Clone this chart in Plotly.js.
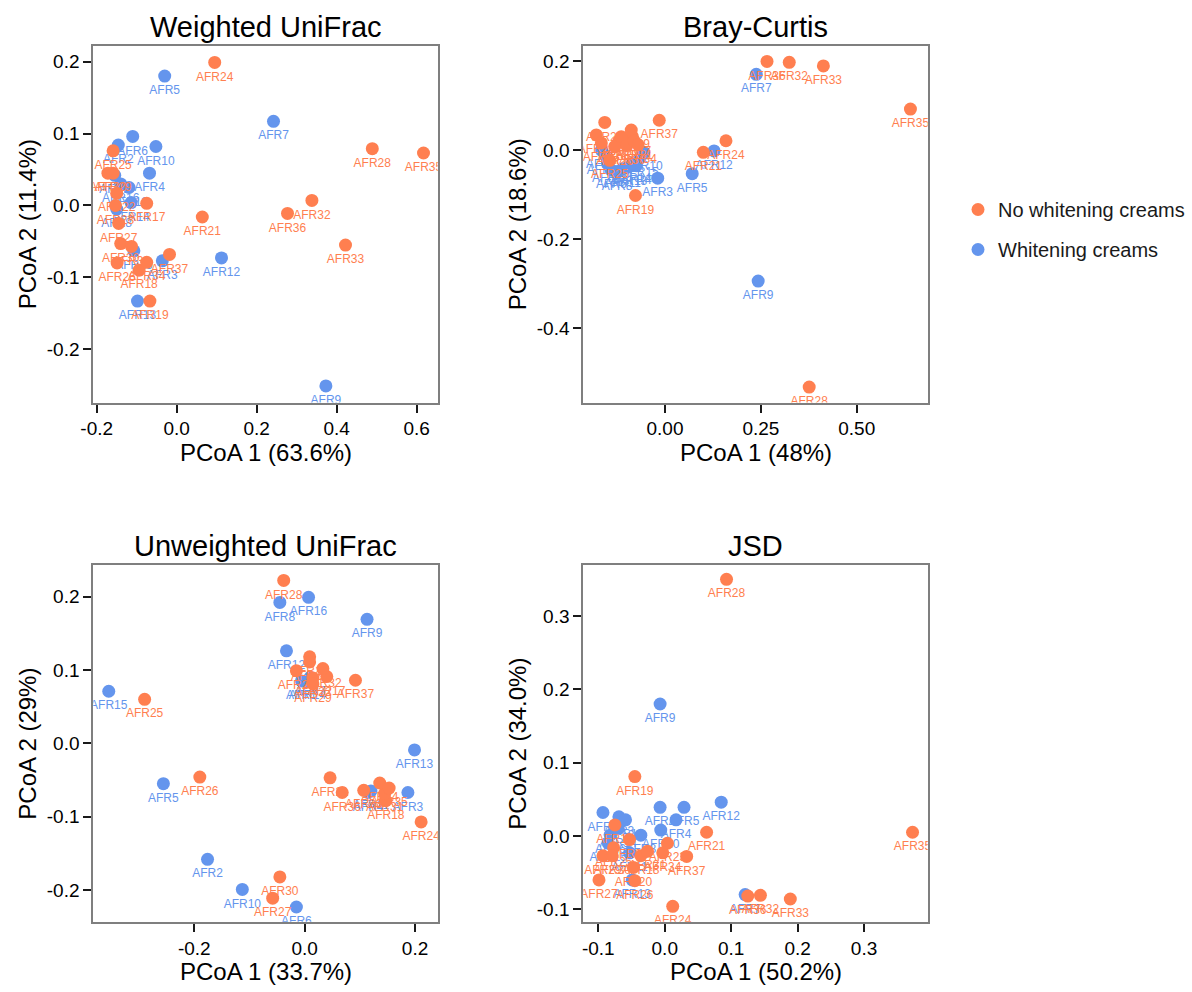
<!DOCTYPE html>
<html>
<head>
<meta charset="utf-8">
<script src="https://cdn.plot.ly/plotly-3.0.1.min.js"></script>
<style>
  html, body { margin: 0; padding: 0; background: #ffffff; }
  #chart { width: 1192px; height: 992px; }
</style>
</head>
<body>
<div id="chart"></div>
<script>
// ---------------- DATA ----------------
const samples = ['AFR1','AFR2','AFR3','AFR4','AFR5','AFR6','AFR7','AFR8','AFR9','AFR10',
  'AFR11','AFR12','AFR13','AFR14','AFR15','AFR16','AFR17','AFR18','AFR19','AFR20',
  'AFR21','AFR22','AFR23','AFR24','AFR25','AFR26','AFR27','AFR28','AFR29','AFR30',
  'AFR31','AFR32','AFR33','AFR34','AFR35','AFR36','AFR37'];
// 1 = Whitening creams, 0 = No whitening creams
const whitening = [1,1,1,1,1,1,1,1,1,1,1,1,1,1,1,1,0,0,0,0,0,0,0,0,0,0,0,0,0,0,0,0,0,0,0,0,0];
const groupNames = ['No whitening creams', 'Whitening creams'];

// Weighted UniFrac
const wuX = [-0.155,-0.146,-0.036,-0.068,-0.030,-0.110,0.242,-0.150,0.373,-0.052,
  -0.119,0.112,-0.098,-0.114,-0.107,-0.140,-0.075,-0.094,-0.067,-0.172,
  0.064,-0.150,-0.153,0.095,-0.159,-0.149,-0.145,0.489,-0.159,-0.140,
  -0.113,0.338,0.422,-0.075,0.617,0.277,-0.018];
const wuY = [0.042,0.084,-0.077,0.045,0.180,0.096,0.117,-0.005,-0.251,0.082,
  0.025,-0.073,-0.133,0.004,-0.063,0.030,0.003,-0.090,-0.133,0.045,
  -0.016,0.017,0.000,0.199,0.076,-0.080,-0.025,0.079,0.045,-0.053,
  -0.057,0.007,-0.055,-0.079,0.073,-0.011,-0.068];

// Bray-Curtis
const bcX = [-0.166,-0.150,-0.019,-0.075,0.071,-0.140,0.238,-0.125,0.243,-0.055,
  -0.110,0.128,-0.095,-0.085,-0.065,-0.155,-0.085,-0.120,-0.077,-0.157,
  0.100,-0.179,-0.166,0.159,-0.144,-0.131,-0.114,0.376,-0.088,-0.100,
  -0.080,0.324,0.413,-0.070,0.640,0.266,-0.015];
const bcY = [0.000,-0.030,-0.063,-0.035,-0.053,-0.045,0.170,-0.048,-0.294,-0.005,
  -0.042,-0.002,-0.038,-0.030,-0.018,-0.012,0.030,0.020,-0.102,0.062,
  -0.005,0.034,0.016,0.021,-0.023,0.008,0.030,-0.532,0.045,0.010,
  0.020,0.197,0.189,0.012,0.092,0.199,0.067];

// Unweighted UniFrac
const uuX = [-0.006,-0.176,0.187,0.115,-0.256,-0.015,0.010,-0.045,0.113,-0.113,
  0.120,-0.033,0.199,0.005,-0.355,0.007,0.040,0.147,0.009,0.009,
  0.046,0.015,-0.015,0.211,-0.290,-0.190,-0.058,-0.038,0.015,-0.045,
  0.145,0.033,0.107,0.136,0.153,0.068,0.092];
const uuY = [0.085,-0.158,-0.067,-0.067,-0.055,-0.223,0.090,0.192,0.169,-0.199,
  -0.065,0.126,-0.009,0.085,0.071,0.199,0.091,-0.078,0.118,0.111,
  -0.047,0.089,0.099,-0.107,0.060,-0.046,-0.211,0.222,0.081,-0.182,
  -0.068,0.102,-0.064,-0.054,-0.061,-0.067,0.086];

// JSD
const jsX = [-0.007,-0.093,-0.069,0.017,0.029,-0.082,0.121,-0.036,-0.007,-0.006,
  -0.053,0.085,-0.049,-0.070,-0.085,-0.059,-0.075,-0.036,-0.045,-0.047,
  0.063,-0.053,0.004,0.012,-0.077,-0.045,-0.099,0.093,-0.093,-0.079,
  -0.026,0.144,0.189,-0.003,0.373,0.125,0.033];
const jsY = [0.039,0.032,0.026,0.022,0.039,0.001,-0.080,0.001,0.180,0.008,
  -0.023,0.046,-0.060,0.010,-0.010,0.022,0.015,-0.027,0.081,-0.043,
  0.005,-0.005,-0.010,-0.096,-0.016,-0.061,-0.060,0.350,-0.027,-0.027,
  -0.021,-0.081,-0.086,-0.023,0.005,-0.082,-0.028];

const panelTitles = ['Weighted UniFrac', 'Bray-Curtis', 'Unweighted UniFrac', 'JSD'];
const xTitles = ['PCoA 1 (63.6%)', 'PCoA 1 (48%)', 'PCoA 1 (33.7%)', 'PCoA 1 (50.2%)'];
const yTitles = ['PCoA 2 (11.4%)', 'PCoA 2 (18.6%)', 'PCoA 2 (29%)', 'PCoA 2 (34.0%)'];

const wuXTicks = [-0.2, 0.0, 0.2, 0.4, 0.6];
const wuXTickText = ['-0.2', '0.0', '0.2', '0.4', '0.6'];
const wuYTicks = [-0.2, -0.1, 0.0, 0.1, 0.2];
const wuYTickText = ['-0.2', '-0.1', '0.0', '0.1', '0.2'];
const bcXTicks = [0.0, 0.25, 0.5];
const bcXTickText = ['0.00', '0.25', '0.50'];
const bcYTicks = [-0.4, -0.2, 0.0, 0.2];
const bcYTickText = ['-0.4', '-0.2', '0.0', '0.2'];
const uuXTicks = [-0.2, 0.0, 0.2];
const uuXTickText = ['-0.2', '0.0', '0.2'];
const uuYTicks = [-0.2, -0.1, 0.0, 0.1, 0.2];
const uuYTickText = ['-0.2', '-0.1', '0.0', '0.1', '0.2'];
const jsXTicks = [-0.1, 0.0, 0.1, 0.2, 0.3];
const jsXTickText = ['-0.1', '0.0', '0.1', '0.2', '0.3'];
const jsYTicks = [-0.1, 0.0, 0.1, 0.2, 0.3];
const jsYTickText = ['-0.1', '0.0', '0.1', '0.2', '0.3'];

// ---------------- STYLE / LAYOUT ----------------
const FONT = 'Liberation Sans, Arial, Helvetica, sans-serif';
const COLORS = ['#FF7F50', '#6495ED']; // orange (no whitening), blue (whitening)
const W = 1192, H = 992;

const panels = [
  {x: wuX, y: wuY, xt: wuXTicks, xtt: wuXTickText, yt: wuYTicks, ytt: wuYTickText,
   xr: [-0.2085, 0.6525], yr: [-0.274, 0.2225], px: [93.3, 437.7], py: [45.5, 402.5]},
  {x: bcX, y: bcY, xt: bcXTicks, xtt: bcXTickText, yt: bcYTicks, ytt: bcYTickText,
   xr: [-0.213, 0.685], yr: [-0.5667, 0.2348], px: [583.3, 927.7], py: [45.5, 402.5]},
  {x: uuX, y: uuY, xt: uuXTicks, xtt: uuXTickText, yt: uuYTicks, ytt: uuYTickText,
   xr: [-0.383, 0.241], yr: [-0.243, 0.243], px: [93.3, 437.7], py: [565, 921.7]},
  {x: jsX, y: jsY, xt: jsXTicks, xtt: jsXTickText, yt: jsYTicks, ytt: jsYTickText,
   xr: [-0.1226, 0.3958], yr: [-0.117, 0.3696], px: [583.3, 927.7], py: [565, 921.7]}
];

const traces = [];
const layout = {
  width: W, height: H,
  margin: {l: 0, r: 0, t: 0, b: 0},
  paper_bgcolor: '#ffffff',
  plot_bgcolor: '#ffffff',
  font: {family: FONT, color: '#000000'},
  showlegend: true,
  legend: {
    x: 958 / W, y: (H - 190) / H, xanchor: 'left', yanchor: 'top',
    font: {size: 20, family: FONT, color: '#1a1a1a'},
    traceorder: 'grouped', tracegroupgap: 11,
    bgcolor: 'rgba(0,0,0,0)', borderwidth: 0
  },
  annotations: []
};

panels.forEach((p, i) => {
  const n = i + 1;
  const xa = n === 1 ? 'x' : 'x' + n;
  const ya = n === 1 ? 'y' : 'y' + n;
  // draw whitening (blue) first, then no whitening (orange) on top
  [1, 0].forEach(g => {
    const xs = [], ys = [], ts = [];
    samples.forEach((s, k) => {
      if (whitening[k] === g) { xs.push(p.x[k]); ys.push(p.y[k]); ts.push(s); }
    });
    traces.push({
      type: 'scatter', mode: 'markers+text',
      x: xs, y: ys, text: ts,
      xaxis: xa, yaxis: ya,
      name: groupNames[g],
      legendgroup: 'g' + g,
      legendrank: g === 0 ? 1 : 2,
      showlegend: i === 0,
      textposition: 'bottom center',
      textfont: {size: 12, family: FONT, color: COLORS[g]},
      marker: {size: 13, color: COLORS[g], line: {width: 0}},
      cliponaxis: true,
      hoverinfo: 'text'
    });
  });

  const common = {
    showline: true, mirror: true, linecolor: '#7f7f7f', linewidth: 2,
    ticks: 'outside', ticklen: 8, tickwidth: 2, tickcolor: '#1a1a1a',
    showgrid: false, zeroline: false,
    tickfont: {size: 19, family: FONT, color: '#000000'},
    tickmode: 'array', fixedrange: true
  };
  layout['xaxis' + (n === 1 ? '' : n)] = Object.assign({}, common, {
    domain: [p.px[0] / W, p.px[1] / W], anchor: ya, range: p.xr,
    tickvals: p.xt, ticktext: p.xtt
  });
  layout['yaxis' + (n === 1 ? '' : n)] = Object.assign({}, common, {
    domain: [(H - p.py[1]) / H, (H - p.py[0]) / H], anchor: xa, range: p.yr,
    tickvals: p.yt, ticktext: p.ytt
  });

  const cx = (p.px[0] + p.px[1]) / 2;
  const cy = (p.py[0] + p.py[1]) / 2;
  // panel title
  layout.annotations.push({
    text: panelTitles[i], xref: 'paper', yref: 'paper',
    x: cx / W, y: (H - (p.py[0] - 19)) / H, xanchor: 'center', yanchor: 'middle',
    showarrow: false, font: {size: 29, family: FONT, color: '#000000'}
  });
  // x axis title
  layout.annotations.push({
    text: xTitles[i], xref: 'paper', yref: 'paper',
    x: cx / W, y: (H - (p.py[1] + 50)) / H, xanchor: 'center', yanchor: 'middle',
    showarrow: false, font: {size: 24, family: FONT, color: '#000000'}
  });
  // y axis title
  layout.annotations.push({
    text: yTitles[i], xref: 'paper', yref: 'paper', textangle: -90,
    x: (p.px[0] - 66) / W, y: (H - cy) / H, xanchor: 'center', yanchor: 'middle',
    showarrow: false, font: {size: 24, family: FONT, color: '#000000'}
  });
});

Plotly.newPlot('chart', traces, layout, {displayModeBar: false, staticPlot: true});
</script>
</body>
</html>
